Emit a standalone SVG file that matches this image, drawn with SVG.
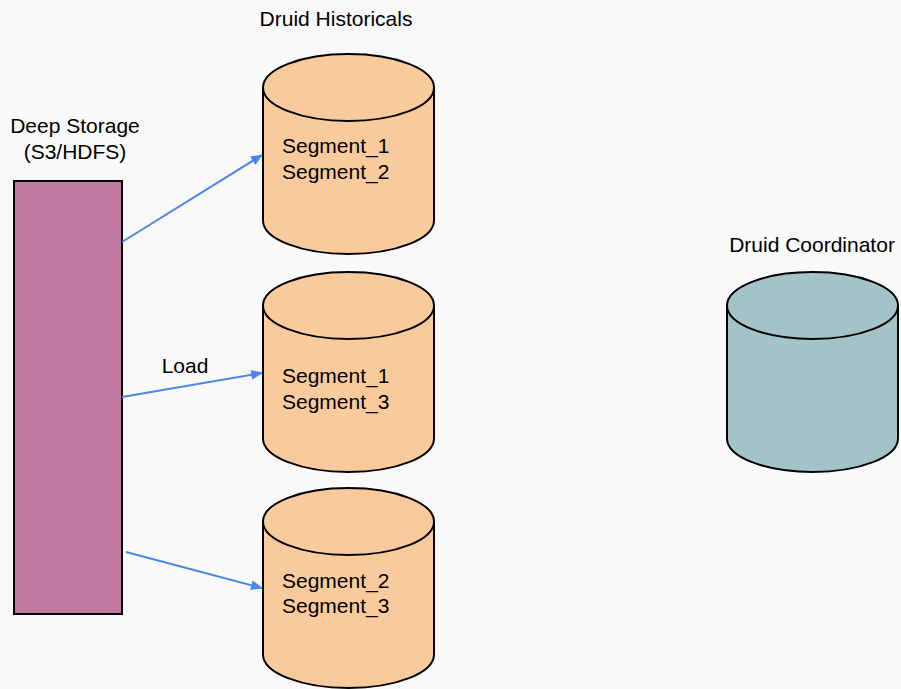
<svg xmlns="http://www.w3.org/2000/svg" xmlns:xlink="http://www.w3.org/1999/xlink" width="901" height="689" viewBox="0 0 901 689">
  <style>
    .lbl { font-family: "Liberation Sans", Arial, sans-serif; font-size: 21px; fill: #000; }
    .seg { font-family: "Liberation Sans", Arial, sans-serif; font-size: 21px; fill: #000; }
    .hist { fill: #f9cb9c; stroke: #000; stroke-width: 2; }
    .coord { fill: #a2c4c9; stroke: #000; stroke-width: 2; }
    .store { fill: #c27ba0; stroke: #000; stroke-width: 2; }
    .arrow { fill: none; stroke: #4a86e8; stroke-width: 2; marker-end: url(#ah); }
  </style>
  <defs>
    <marker id="ah" markerWidth="12" markerHeight="10" refX="11" refY="5" orient="auto" markerUnits="userSpaceOnUse">
      <path d="M0,0 L12,5 L0,10 Z" fill="#4a86e8"/>
    </marker>
    <g id="cyl">
      <path d="M0,33.5 A85.5,33.5 0 0 1 171,33.5 V166.5 A85.5,33.5 0 0 1 0,166.5 Z"/>
      <path d="M0,33.5 A85.5,33.5 0 0 0 171,33.5" fill="none"/>
    </g>
  </defs>
  <rect width="901" height="689" fill="#f9f9fa"/>

  <g id="deep-storage">
    <text class="lbl" x="75" y="133" text-anchor="middle">Deep Storage</text>
    <text class="lbl" x="75" y="159" text-anchor="middle">(S3/HDFS)</text>
    <rect class="store" x="14" y="181" width="108" height="433"/>
  </g>

  <text class="lbl" x="336" y="26" text-anchor="middle">Druid Historicals</text>

  <g id="historical-1">
    <use xlink:href="#cyl" class="hist" transform="translate(263,54)"/>
    <text class="seg" x="282" y="153">Segment_1</text>
    <text class="seg" x="282" y="179">Segment_2</text>
  </g>

  <g id="historical-2">
    <use xlink:href="#cyl" class="hist" transform="translate(263,272)"/>
    <text class="seg" x="282" y="383">Segment_1</text>
    <text class="seg" x="282" y="409">Segment_3</text>
  </g>

  <g id="historical-3">
    <use xlink:href="#cyl" class="hist" transform="translate(263,488)"/>
    <text class="seg" x="282" y="588">Segment_2</text>
    <text class="seg" x="282" y="613">Segment_3</text>
  </g>

  <g id="coordinator">
    <text class="lbl" x="812" y="252" text-anchor="middle">Druid Coordinator</text>
    <use xlink:href="#cyl" class="coord" transform="translate(727,272)"/>
  </g>

  <g id="connectors">
    <path class="arrow" d="M122,242 L262,155"/>
    <path class="arrow" d="M122,397 L262,373"/>
    <text class="lbl" x="185" y="373" text-anchor="middle">Load</text>
    <path class="arrow" d="M126,552 L262,588"/>
  </g>
</svg>
